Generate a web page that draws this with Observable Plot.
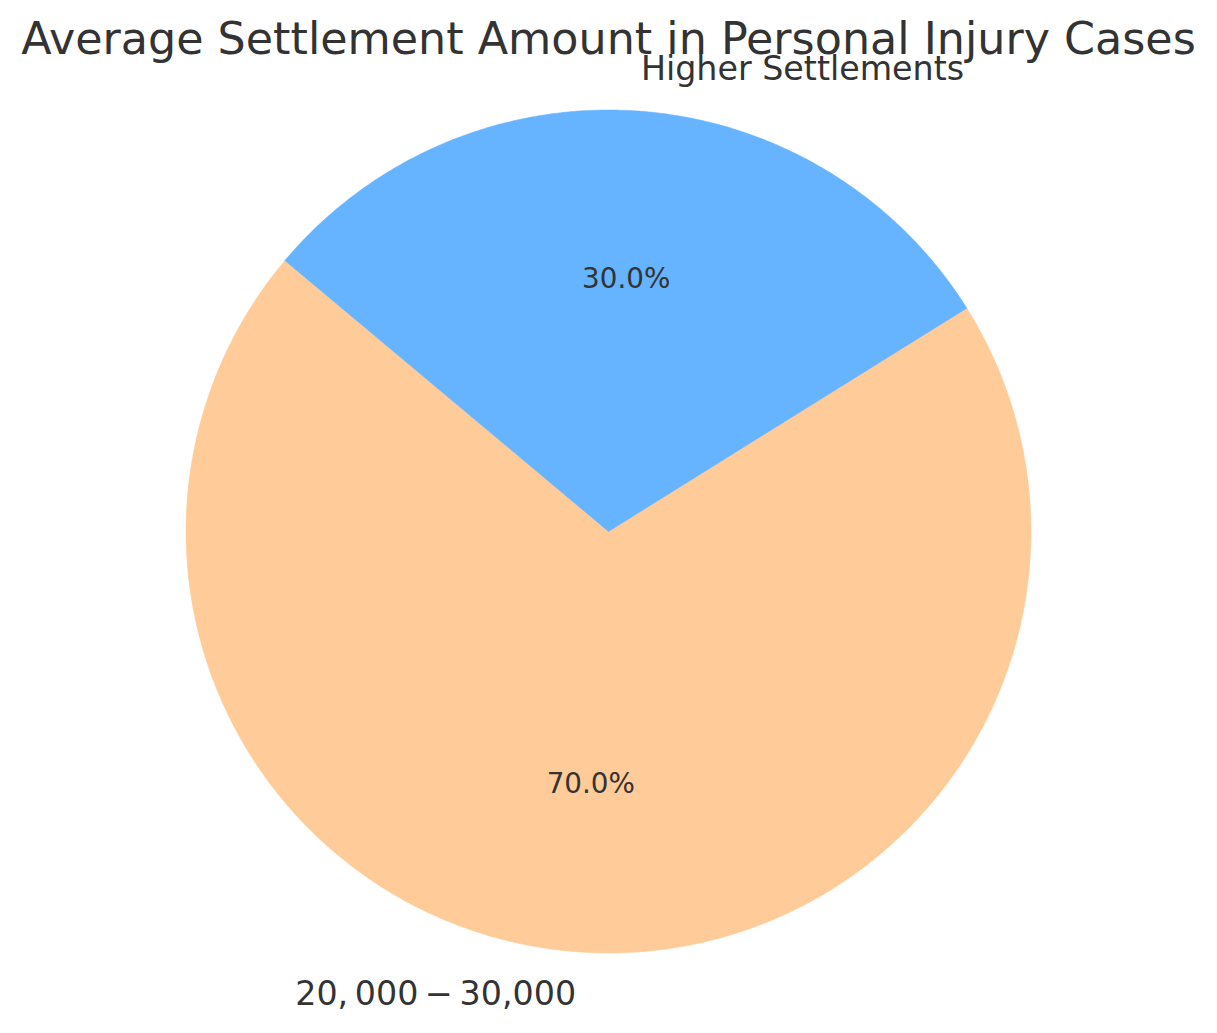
<!DOCTYPE html>
<html>
<head>
<meta charset="utf-8">
<script src="https://cdn.jsdelivr.net/npm/d3@7"></script>
<script src="https://cdn.jsdelivr.net/npm/@observablehq/plot@0.6"></script>
<style>
  html, body { margin: 0; padding: 0; background: #fff; }
  #title { height: 50px; font: 44.4px "DejaVu Sans", sans-serif; color: #333333; text-align: center; line-height: 50px; white-space: nowrap; }
  #title span { position: relative; top: 14px; }
  #chart svg { overflow: visible; }
</style>
</head>
<body>
<div id="title"><span>Average Settlement Amount in Personal Injury Cases</span></div>
<div id="chart"></div>
<script>
// Data
const categories = ["$20,000-$30,000", "Higher Settlements"];
const displayLabels = ["20,\u2009000\u2009\u2212\u200930,000", "Higher Settlements"];
const shares = [70, 30];
const sliceColors = ["#ffcc99", "#66b3ff"];
const startAngle = 140; // degrees, counterclockwise from +x

// Build slice geometry (unit circle) from the data
const total = d3.sum(shares);
const slicePoints = [];
const labelRows = [];
const pctRows = [];
let a0 = startAngle;
shares.forEach((v, i) => {
  const sweep = 360 * v / total;
  const a1 = a0 + sweep;
  const pts = [{x: 0, y: 0, cat: categories[i]}];
  const n = Math.max(2, Math.ceil(sweep * 2));
  for (let k = 0; k <= n; k++) {
    const t = (a0 + sweep * k / n) * Math.PI / 180;
    pts.push({x: Math.cos(t), y: Math.sin(t), cat: categories[i]});
  }
  pts.push({x: 0, y: 0, cat: categories[i]});
  slicePoints.push(...pts);
  const mid = (a0 + sweep / 2) * Math.PI / 180;
  labelRows.push({x: 1.1 * Math.cos(mid), y: 1.1 * Math.sin(mid), text: displayLabels[i], side: Math.cos(mid) >= 0 ? "start" : "end"});
  pctRows.push({x: 0.6 * Math.cos(mid), y: 0.6 * Math.sin(mid), text: (100 * v / total).toFixed(1) + "%"});
  a0 = a1;
});

const W = 1217, H = 983;
const chart = Plot.plot({
  width: W,
  height: H,
  marginLeft: 185.5,
  marginRight: 186.5,
  marginTop: 59.5,
  marginBottom: 80.5,
  x: {domain: [-1, 1], axis: null},
  y: {domain: [-1, 1], axis: null},
  color: {domain: categories, range: sliceColors},
  style: {fontFamily: "DejaVu Sans, sans-serif", background: "#fff", overflow: "visible"},
  marks: [
    Plot.line(slicePoints, {x: "x", y: "y", z: "cat", fill: "cat", stroke: "cat", strokeWidth: 0.5, curve: "linear"}),
    Plot.text(labelRows.filter(d => d.side === "start"), {x: "x", y: "y", text: "text", textAnchor: "start", fontSize: 33.3, fill: "#333333"}),
    Plot.text(labelRows.filter(d => d.side === "end"), {x: "x", y: "y", text: "text", textAnchor: "end", fontSize: 33.3, fill: "#333333"}),
    Plot.text(pctRows, {x: "x", y: "y", text: "text", fontSize: 27.8, fill: "#333333"})
  ]
});
document.getElementById("chart").appendChild(chart);
</script>
</body>
</html>
